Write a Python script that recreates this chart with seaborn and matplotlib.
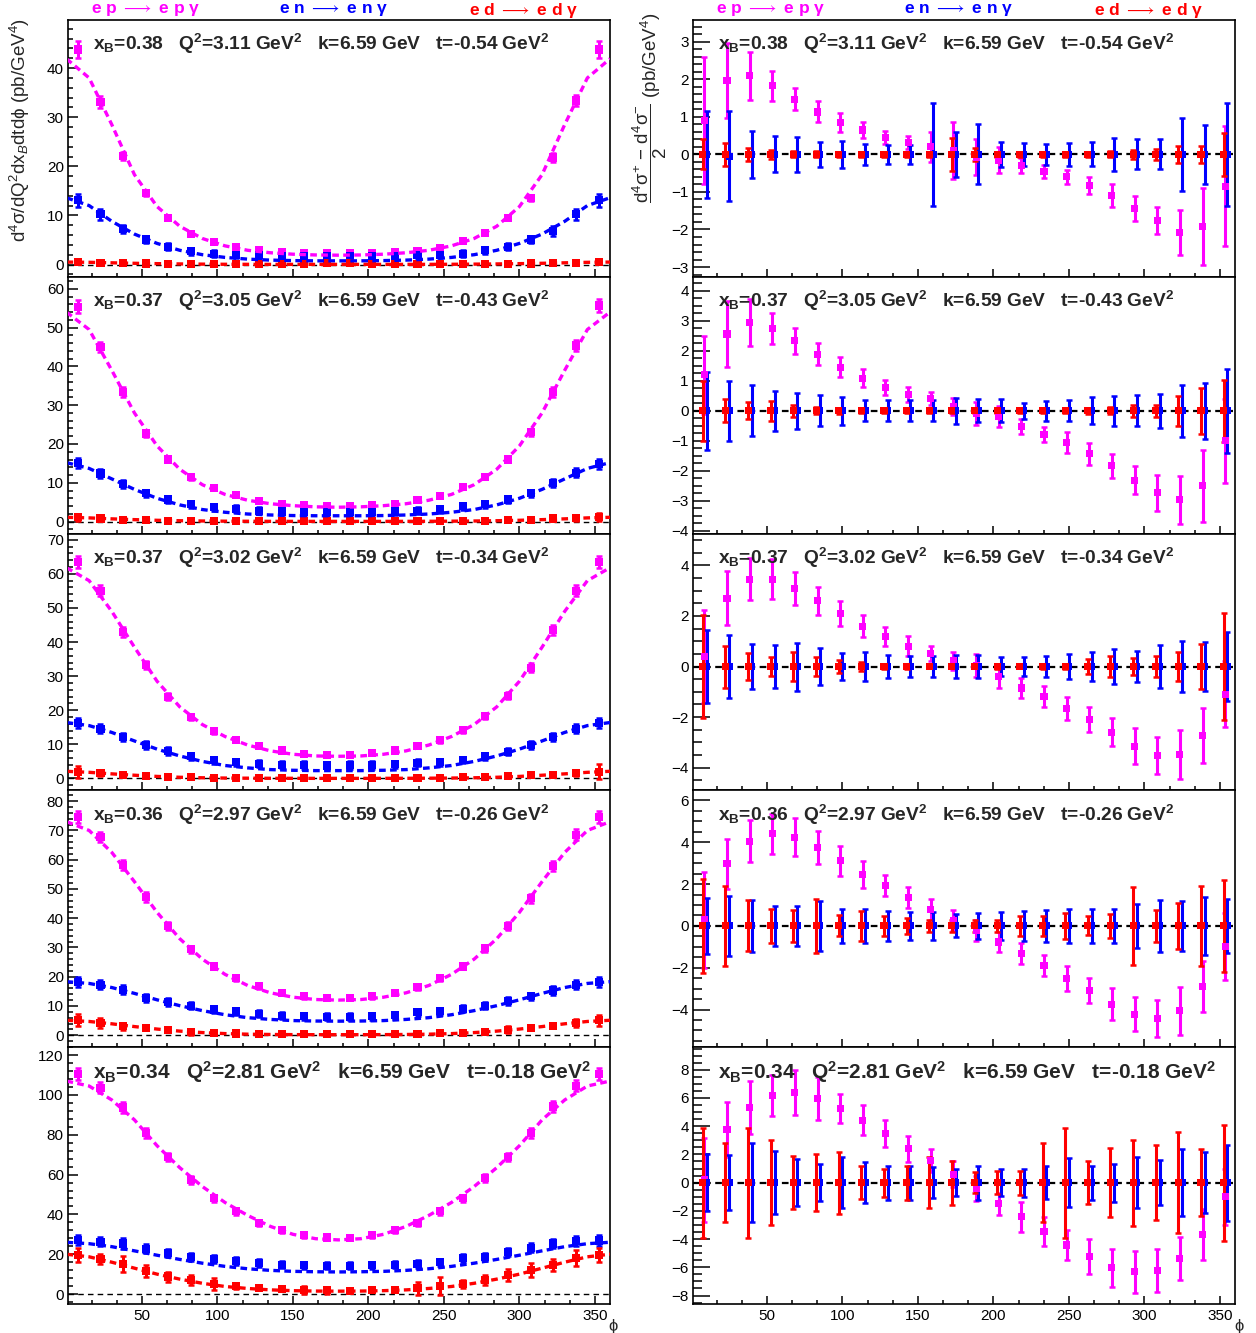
import numpy as np
import matplotlib.pyplot as plt
from matplotlib.ticker import MultipleLocator
import seaborn as sns

sns.set_style("white")
plt.rcParams['font.family'] = ['Liberation Sans', 'DejaVu Sans']
plt.rcParams['mathtext.fontset'] = 'custom'
plt.rcParams['mathtext.rm'] = 'Liberation Sans'
plt.rcParams['mathtext.it'] = 'Liberation Sans:italic'
plt.rcParams['mathtext.bf'] = 'Liberation Sans:bold'

#### data ####
phi = [7.5, 22.5, 37.5, 52.5, 67.5, 82.5, 97.5, 112.5, 127.5, 142.5, 157.5, 172.5,
       187.5, 202.5, 217.5, 232.5, 247.5, 262.5, 277.5, 292.5, 307.5, 322.5, 337.5, 352.5]
phi_fit = [0, 15, 30, 45, 60, 75, 90, 105, 120, 135, 150, 165, 180,
           195, 210, 225, 240, 255, 270, 285, 300, 315, 330, 345, 360]

info_xb = ['0.38', '0.37', '0.37', '0.36', '0.34']
info_q2 = ['3.11', '3.05', '3.02', '2.97', '2.81']
info_k = ['6.59', '6.59', '6.59', '6.59', '6.59']
info_t = ['-0.54', '-0.43', '-0.34', '-0.26', '-0.18']

# cross sections (left column), one list per row
ep_xs = [
    [43.8, 33.1, 22.1, 14.5, 9.5, 6.3, 4.6, 3.6, 2.9, 2.5, 2.4, 2.3, 2.3, 2.4, 2.5, 2.8, 3.4, 4.7, 6.5, 9.5, 13.6, 21.8, 33.4, 43.8],
    [55.4, 45.0, 33.4, 22.7, 16.0, 11.4, 8.6, 6.8, 5.4, 4.6, 4.2, 3.9, 4.0, 4.2, 4.6, 5.5, 6.7, 8.8, 11.6, 16.0, 23.0, 33.4, 45.4, 55.7],
    [63.5, 55.0, 43.0, 33.2, 24.0, 18.0, 13.8, 11.4, 9.4, 8.2, 7.3, 6.9, 6.9, 7.4, 8.2, 9.4, 11.2, 14.1, 18.2, 24.3, 32.5, 43.5, 55.0, 63.5],
    [74.7, 67.8, 58.2, 47.2, 37.4, 29.4, 23.5, 19.5, 16.7, 14.4, 13.3, 12.7, 12.7, 13.3, 14.4, 16.4, 19.5, 23.5, 29.8, 37.2, 46.8, 57.8, 68.6, 74.7],
    [110.7, 103.6, 93.7, 81.0, 68.9, 57.4, 48.1, 41.5, 35.9, 32.0, 29.6, 28.4, 28.3, 29.6, 32.0, 35.9, 41.5, 48.2, 58.4, 68.9, 80.7, 94.2, 104.7, 110.7],
]
ep_xs_err = [
    [1.8, 1.2, 0.9, 0.6, 0.5, 0.4, 0.35, 0.3, 0.3, 0.3, 0.3, 0.3, 0.3, 0.3, 0.3, 0.3, 0.35, 0.4, 0.45, 0.5, 0.6, 0.9, 1.2, 1.8],
    [1.6, 1.4, 1.2, 0.9, 0.6, 0.6, 0.5, 0.4, 0.4, 0.4, 0.4, 0.4, 0.4, 0.4, 0.4, 0.4, 0.4, 0.5, 0.6, 0.7, 0.9, 1.2, 1.5, 1.6],
    [1.8, 1.6, 1.5, 1.2, 1.1, 0.9, 0.8, 0.7, 0.6, 0.6, 0.6, 0.6, 0.6, 0.6, 0.6, 0.6, 0.7, 0.8, 0.9, 1.1, 1.3, 1.5, 1.6, 1.8],
    [2.0, 1.8, 1.8, 1.6, 1.4, 1.2, 1.0, 0.9, 0.8, 0.8, 0.8, 0.8, 0.8, 0.8, 0.8, 0.8, 0.9, 1.0, 1.2, 1.4, 1.6, 1.8, 1.8, 2.0],
    [3.0, 2.8, 2.8, 2.5, 2.2, 2.0, 1.8, 1.6, 1.5, 1.4, 1.4, 1.4, 1.4, 1.4, 1.4, 1.5, 1.6, 1.8, 2.0, 2.2, 2.5, 2.8, 2.8, 3.0],
]
en_xs = [
    [13.1, 10.2, 7.2, 5.1, 3.6, 2.7, 2.2, 2.0, 1.9, 1.8, 1.7, 1.7, 1.8, 1.8, 1.8, 1.9, 2.0, 2.2, 2.9, 3.6, 5.1, 6.9, 10.2, 13.1],
    [15.0, 12.4, 9.6, 7.3, 5.7, 4.5, 3.7, 3.3, 2.8, 2.6, 2.5, 2.4, 2.4, 2.5, 2.6, 2.8, 3.2, 3.9, 4.5, 5.7, 7.3, 9.9, 12.6, 14.8],
    [16.3, 14.6, 12.2, 9.8, 8.1, 6.5, 5.3, 4.7, 4.3, 4.0, 3.9, 3.8, 3.9, 3.9, 4.2, 4.6, 4.8, 5.4, 6.5, 7.8, 9.8, 12.1, 14.6, 16.3],
    [18.2, 17.3, 15.6, 12.7, 11.3, 10.1, 8.8, 8.2, 7.3, 6.7, 6.5, 6.3, 6.3, 6.5, 6.8, 7.8, 8.2, 9.1, 10.1, 11.6, 13.3, 15.3, 17.3, 18.2],
    [27.1, 26.2, 25.4, 22.8, 20.6, 18.4, 17.6, 16.4, 15.6, 14.7, 14.4, 14.2, 14.2, 14.4, 14.7, 15.1, 15.9, 18.1, 18.6, 21.0, 23.2, 25.4, 26.6, 26.9],
]
en_xs_err = [
    [1.3, 1.1, 0.8, 0.7, 0.7, 0.7, 0.7, 0.7, 0.7, 0.8, 1.0, 1.0, 0.9, 0.8, 0.7, 0.7, 0.7, 0.7, 0.7, 0.7, 0.8, 1.0, 1.1, 1.3],
    [1.3, 1.1, 1.0, 0.9, 0.9, 0.9, 0.9, 0.9, 0.9, 0.9, 1.0, 1.0, 1.0, 1.0, 0.9, 0.9, 0.9, 0.9, 0.9, 0.9, 0.9, 1.0, 1.2, 1.3],
    [1.5, 1.3, 1.2, 1.1, 1.1, 1.0, 1.0, 1.0, 1.0, 1.0, 1.1, 1.1, 1.1, 1.1, 1.0, 1.0, 1.0, 1.0, 1.0, 1.0, 1.1, 1.2, 1.3, 1.5],
    [1.6, 1.5, 1.4, 1.3, 1.3, 1.3, 1.3, 1.2, 1.2, 1.2, 1.2, 1.2, 1.2, 1.2, 1.2, 1.2, 1.2, 1.2, 1.3, 1.3, 1.3, 1.4, 1.5, 1.6],
    [2.5, 2.3, 2.8, 2.4, 2.2, 2.0, 2.0, 2.0, 1.8, 1.8, 1.8, 1.8, 1.8, 1.8, 1.8, 1.8, 1.8, 1.8, 2.0, 2.0, 2.2, 2.4, 2.4, 2.6],
]
ed_xs = [
    [0.5, 0.4, 0.3, 0.2, 0.15, 0.1, 0.08, 0.06, 0.06, 0.05, 0.05, 0.3, 0.3, 0.05, 0.05, 0.06, 0.06, 0.08, 0.1, 0.15, 0.2, 0.3, 0.35, 0.5],
    [1.1, 0.8, 0.5, 0.35, 0.25, 0.2, 0.15, 0.1, 0.1, 0.1, 0.1, 0.1, 0.1, 0.1, 0.1, 0.1, 0.15, 0.2, 0.25, 0.35, 0.5, 0.8, 0.9, 1.2],
    [2.0, 1.5, 1.1, 0.7, 0.45, 0.3, 0.2, 0.15, 0.1, 0.1, 0.1, 0.1, 0.1, 0.1, 0.1, 0.1, 0.15, 0.3, 0.4, 0.6, 0.9, 1.1, 1.6, 2.0],
    [5.1, 4.2, 3.1, 2.5, 1.7, 1.1, 0.8, 0.6, 0.5, 0.35, 0.35, 0.3, 0.3, 0.3, 0.4, 0.5, 0.7, 0.9, 1.2, 1.9, 2.5, 3.3, 4.2, 5.1],
    [19.8, 17.8, 15.1, 11.7, 8.8, 7.1, 5.1, 4.1, 3.0, 2.5, 2.0, 1.9, 1.7, 1.9, 2.0, 2.9, 4.1, 5.2, 7.1, 9.6, 12.2, 14.7, 18.1, 19.8],
]
ed_xs_err = [
    [0.4, 0.3, 0.25, 0.2, 0.15, 0.1, 0.1, 0.1, 0.1, 0.1, 0.1, 0.25, 0.2, 0.1, 0.1, 0.1, 0.1, 0.1, 0.1, 0.1, 0.15, 0.2, 0.3, 0.4],
    [0.9, 0.5, 0.4, 0.35, 0.3, 0.2, 0.2, 0.2, 0.15, 0.15, 0.15, 0.15, 0.15, 0.15, 0.15, 0.15, 0.15, 0.2, 0.25, 0.3, 0.4, 0.5, 0.7, 1.0],
    [1.8, 0.8, 0.6, 0.5, 0.4, 0.3, 0.3, 0.25, 0.2, 0.2, 0.2, 0.2, 0.2, 0.2, 0.2, 0.2, 0.2, 0.25, 0.3, 0.4, 0.5, 0.6, 0.8, 2.1],
    [2.0, 1.7, 1.2, 0.8, 0.7, 1.0, 0.6, 0.5, 0.4, 0.4, 0.4, 0.4, 0.4, 0.4, 0.4, 0.4, 0.5, 0.6, 0.7, 1.2, 0.8, 1.0, 1.5, 1.8],
    [3.5, 2.5, 4.0, 3.0, 2.5, 2.5, 3.0, 1.5, 1.2, 1.2, 1.8, 1.8, 1.2, 1.0, 1.2, 3.3, 4.5, 2.0, 2.5, 3.0, 3.5, 3.0, 4.0, 3.5],
]

# fit curves (dashed), sampled on phi_fit
ep_fit = [
    [41.9, 38.0, 28.5, 18.3, 11.8, 7.8, 5.3, 3.8, 2.9, 2.4, 2.1, 1.95, 1.9, 1.95, 2.1, 2.4, 2.9, 3.8, 5.3, 7.8, 11.8, 18.3, 28.5, 38.0, 41.9],
    [54.0, 49.5, 39.0, 28.0, 19.5, 13.5, 9.5, 7.0, 5.5, 4.6, 4.1, 3.8, 3.7, 3.8, 4.1, 4.6, 5.5, 7.0, 9.5, 13.5, 19.5, 28.0, 39.0, 49.5, 54.0],
    [61.8, 58.0, 49.0, 38.5, 28.5, 21.0, 15.8, 12.3, 9.8, 8.1, 7.1, 6.6, 6.5, 6.6, 7.1, 8.1, 9.8, 12.3, 15.8, 21.0, 28.5, 38.5, 49.0, 58.0, 61.8],
    [73.0, 70.0, 62.5, 52.5, 42.0, 33.0, 26.0, 20.8, 17.0, 14.5, 13.0, 12.2, 12.0, 12.2, 13.0, 14.5, 17.0, 20.8, 26.0, 33.0, 42.0, 52.5, 62.5, 70.0, 73.0],
    [107.0, 104.5, 97.5, 87.5, 74.5, 63.5, 54.0, 46.0, 39.5, 34.0, 30.0, 27.8, 27.2, 27.8, 30.0, 34.0, 39.5, 46.0, 54.0, 63.5, 74.5, 87.5, 97.5, 104.5, 107.0],
]
en_fit = [
    [13.6, 12.0, 8.8, 6.2, 4.3, 2.9, 2.0, 1.45, 1.1, 0.9, 0.8, 0.75, 0.75, 0.75, 0.8, 0.9, 1.1, 1.45, 2.0, 2.9, 4.3, 6.2, 8.8, 12.0, 13.6],
    [15.2, 13.7, 11.0, 8.3, 6.0, 4.3, 3.1, 2.4, 1.95, 1.7, 1.55, 1.5, 1.5, 1.5, 1.55, 1.7, 1.95, 2.4, 3.1, 4.3, 6.0, 8.3, 11.0, 13.7, 15.2],
    [16.4, 15.5, 13.5, 11.0, 8.6, 6.6, 5.0, 3.8, 3.1, 2.6, 2.4, 2.3, 2.3, 2.3, 2.4, 2.6, 3.1, 3.8, 5.0, 6.6, 8.6, 11.0, 13.5, 15.5, 16.4],
    [18.3, 17.7, 16.3, 14.3, 12.1, 10.1, 8.4, 7.0, 6.0, 5.4, 5.0, 4.85, 4.8, 4.85, 5.0, 5.4, 6.0, 7.0, 8.4, 10.1, 12.1, 14.3, 16.3, 17.7, 18.3],
    [26.0, 25.3, 23.8, 21.7, 19.5, 17.4, 15.5, 13.9, 12.7, 11.9, 11.4, 11.2, 11.1, 11.2, 11.4, 11.9, 12.7, 13.9, 15.5, 17.4, 19.5, 21.7, 23.8, 25.3, 26.0],
]
ed_fit = [
    [0.5, 0.45, 0.35, 0.25, 0.18, 0.12, 0.08, 0.05, 0.04, 0.03, 0.03, 0.03, 0.03, 0.03, 0.03, 0.03, 0.04, 0.05, 0.08, 0.12, 0.18, 0.25, 0.35, 0.45, 0.5],
    [1.1, 0.95, 0.7, 0.5, 0.33, 0.22, 0.15, 0.1, 0.08, 0.06, 0.05, 0.05, 0.05, 0.05, 0.05, 0.06, 0.08, 0.1, 0.15, 0.22, 0.33, 0.5, 0.7, 0.95, 1.1],
    [2.1, 1.8, 1.35, 0.95, 0.6, 0.35, 0.2, 0.12, 0.08, 0.05, 0.04, 0.03, 0.03, 0.03, 0.04, 0.05, 0.08, 0.12, 0.2, 0.35, 0.6, 0.95, 1.35, 1.8, 2.1],
    [5.1, 4.7, 3.9, 2.95, 2.1, 1.4, 0.9, 0.55, 0.35, 0.25, 0.2, 0.18, 0.18, 0.18, 0.2, 0.25, 0.35, 0.55, 0.9, 1.4, 2.1, 2.95, 3.9, 4.7, 5.1],
    [20.0, 18.7, 16.0, 13.0, 10.0, 7.5, 5.4, 3.8, 2.8, 2.1, 1.7, 1.5, 1.45, 1.5, 1.7, 2.1, 2.8, 3.8, 5.4, 7.5, 10.0, 13.0, 16.0, 18.7, 20.0],
]

# beam-charge differences (right column)
ep_diff = [
    [0.9, 1.96, 2.1, 1.83, 1.47, 1.13, 0.85, 0.65, 0.45, 0.31, 0.2, 0.1, -0.07, -0.15, -0.3, -0.45, -0.6, -0.83, -1.1, -1.45, -1.76, -2.07, -1.92, -0.85],
    [1.2, 2.56, 2.95, 2.75, 2.33, 1.88, 1.45, 1.09, 0.77, 0.55, 0.4, 0.13, -0.1, -0.2, -0.53, -0.79, -1.06, -1.43, -1.83, -2.32, -2.74, -2.97, -2.5, -1.0],
    [0.4, 2.7, 3.46, 3.46, 3.1, 2.6, 2.1, 1.6, 1.18, 0.8, 0.5, 0.23, 0.04, -0.4, -0.85, -1.2, -1.65, -2.1, -2.6, -3.15, -3.52, -3.48, -2.73, -1.1],
    [0.3, 2.97, 4.05, 4.41, 4.24, 3.76, 3.11, 2.47, 1.93, 1.35, 0.79, 0.27, -0.2, -0.77, -1.3, -1.9, -2.5, -3.1, -3.74, -4.22, -4.43, -4.06, -2.9, -1.0],
    [0.2, 3.75, 5.32, 6.2, 6.37, 5.97, 5.25, 4.42, 3.46, 2.39, 1.55, 0.6, -0.4, -1.5, -2.43, -3.46, -4.42, -5.25, -6.04, -6.32, -6.23, -5.37, -3.65, -1.0],
]
ep_diff_err = [
    [1.7, 1.0, 0.64, 0.4, 0.3, 0.28, 0.25, 0.2, 0.17, 0.17, 0.4, 0.75, 0.47, 0.35, 0.2, 0.17, 0.18, 0.22, 0.3, 0.33, 0.35, 0.6, 1.03, 1.6],
    [1.3, 1.1, 0.78, 0.52, 0.43, 0.37, 0.33, 0.3, 0.25, 0.25, 0.22, 0.28, 0.38, 0.35, 0.25, 0.25, 0.35, 0.37, 0.4, 0.47, 0.6, 0.8, 1.2, 1.4],
    [1.85, 1.07, 0.82, 0.8, 0.65, 0.55, 0.5, 0.45, 0.37, 0.4, 0.3, 0.35, 0.45, 0.45, 0.38, 0.42, 0.45, 0.5, 0.55, 0.7, 0.75, 0.95, 1.1, 1.3],
    [2.3, 1.2, 1.0, 0.95, 0.9, 0.8, 0.7, 0.65, 0.5, 0.5, 0.5, 0.5, 0.5, 0.5, 0.5, 0.5, 0.6, 0.6, 0.75, 0.8, 0.88, 1.15, 1.2, 1.6],
    [3.0, 1.95, 1.9, 1.45, 1.6, 1.5, 1.05, 1.05, 0.95, 0.9, 0.8, 0.9, 0.9, 0.8, 1.05, 1.0, 1.05, 1.25, 1.35, 1.5, 1.5, 1.55, 1.8, 2.0],
]
en_diff = [
    [0.0, -0.05, 0.0, 0.0, 0.0, 0.0, 0.0, 0.0, 0.0, 0.0, 0.0, 0.0, 0.0, 0.0, 0.0, 0.0, 0.0, 0.0, 0.0, 0.0, 0.0, 0.0, 0.0, 0.0],
    [0.0, 0.0, 0.0, 0.0, 0.0, 0.0, 0.0, 0.0, 0.0, 0.0, 0.0, 0.0, 0.0, 0.0, 0.0, 0.0, 0.0, 0.0, 0.0, 0.0, 0.0, 0.0, 0.0, 0.0],
    [0.0, 0.0, 0.0, 0.0, 0.0, 0.0, 0.0, 0.0, 0.0, 0.0, 0.0, 0.0, 0.0, 0.0, 0.0, 0.0, 0.0, 0.0, 0.0, 0.0, 0.0, 0.0, 0.0, 0.0],
    [0.0, 0.0, 0.0, 0.0, 0.0, 0.0, 0.0, 0.0, 0.0, 0.0, 0.0, 0.0, 0.0, 0.0, 0.0, 0.0, 0.0, 0.0, 0.0, 0.0, 0.0, 0.0, 0.0, 0.0],
    [0.0, 0.0, 0.0, 0.0, 0.0, 0.0, 0.0, 0.0, 0.0, 0.0, 0.0, 0.0, 0.0, 0.0, 0.0, 0.0, 0.0, 0.0, 0.0, 0.0, 0.0, 0.0, 0.0, 0.0],
]
en_diff_err = [
    [1.15, 1.2, 0.62, 0.48, 0.46, 0.34, 0.35, 0.27, 0.26, 0.25, 1.37, 0.6, 0.8, 0.33, 0.3, 0.27, 0.3, 0.32, 0.45, 0.4, 0.4, 0.97, 0.78, 1.37],
    [1.3, 1.0, 0.85, 0.67, 0.6, 0.52, 0.47, 0.35, 0.35, 0.35, 0.35, 0.43, 0.38, 0.38, 0.27, 0.33, 0.35, 0.45, 0.5, 0.52, 0.57, 0.86, 0.93, 1.4],
    [1.45, 1.25, 0.9, 0.85, 0.95, 0.73, 0.52, 0.58, 0.45, 0.42, 0.43, 0.45, 0.45, 0.38, 0.38, 0.4, 0.5, 0.58, 0.68, 0.6, 0.85, 1.0, 0.98, 1.38],
    [1.35, 1.45, 1.25, 0.95, 0.95, 1.2, 0.8, 0.82, 0.7, 0.65, 0.65, 0.55, 0.62, 0.68, 0.72, 0.78, 0.8, 0.8, 0.8, 1.07, 1.25, 1.2, 1.37, 1.3],
    [2.0, 1.95, 2.8, 2.25, 1.65, 1.3, 1.8, 1.45, 1.2, 1.2, 1.1, 0.95, 1.2, 0.95, 1.0, 1.15, 1.75, 1.2, 1.35, 1.8, 1.6, 2.35, 2.15, 2.7],
]
ed_diff = [
    [0.0, 0.0, 0.0, 0.0, 0.0, 0.0, 0.0, 0.0, 0.0, 0.0, 0.0, 0.0, 0.0, 0.0, 0.0, 0.0, 0.0, 0.0, 0.0, 0.0, 0.0, 0.0, 0.0, 0.0],
    [0.0, 0.0, 0.0, 0.0, 0.0, 0.0, 0.0, 0.0, 0.0, 0.0, 0.0, 0.0, 0.0, 0.0, 0.0, 0.0, 0.0, 0.0, 0.0, 0.0, 0.0, 0.0, 0.0, 0.0],
    [0.0, 0.0, 0.0, 0.0, 0.0, 0.0, 0.0, 0.0, 0.0, 0.0, 0.0, 0.0, 0.0, 0.0, 0.0, 0.0, 0.0, 0.0, 0.0, 0.0, 0.0, 0.0, 0.0, 0.0],
    [0.0, 0.0, 0.0, 0.0, 0.0, 0.0, 0.0, 0.0, 0.0, 0.0, 0.0, 0.0, 0.0, 0.0, 0.0, 0.0, 0.0, 0.0, 0.0, 0.0, 0.0, 0.0, 0.0, 0.0],
    [0.0, 0.0, 0.0, 0.0, 0.0, 0.0, 0.0, 0.0, 0.0, 0.0, 0.0, 0.0, 0.0, 0.0, 0.0, 0.0, 0.0, 0.0, 0.0, 0.0, 0.0, 0.0, 0.0, 0.0],
]
ed_diff_err = [
    [0.4, 0.3, 0.18, 0.12, 0.08, 0.08, 0.06, 0.06, 0.06, 0.06, 0.06, 0.45, 0.17, 0.06, 0.06, 0.06, 0.06, 0.06, 0.08, 0.12, 0.15, 0.22, 0.22, 0.57],
    [1.0, 0.38, 0.28, 0.33, 0.2, 0.12, 0.1, 0.08, 0.08, 0.08, 0.08, 0.08, 0.08, 0.08, 0.08, 0.08, 0.08, 0.1, 0.12, 0.2, 0.2, 0.5, 0.77, 1.03],
    [2.05, 0.83, 0.55, 0.36, 0.57, 0.38, 0.26, 0.18, 0.1, 0.08, 0.06, 0.06, 0.06, 0.1, 0.06, 0.08, 0.1, 0.28, 0.4, 0.35, 0.42, 0.56, 0.9, 2.1],
    [2.25, 1.9, 1.22, 0.8, 0.75, 1.28, 0.5, 0.7, 0.48, 0.38, 0.3, 0.3, 0.28, 0.28, 0.48, 0.48, 0.62, 0.45, 0.58, 1.88, 0.77, 1.1, 1.9, 2.2],
    [3.9, 2.8, 3.9, 3.0, 1.9, 2.0, 2.2, 1.15, 1.0, 1.2, 1.8, 1.55, 0.75, 0.8, 0.85, 2.8, 3.9, 1.5, 2.45, 3.05, 2.65, 3.6, 2.35, 4.1],
]

left_ylim = [(-2.5, 49.8), (-3.1, 63.1), (-3.5, 71.8), (-4.1, 83.7), (-5.0, 124.0)]
right_ylim = [(-3.26, 3.58), (-4.1, 4.47), (-4.9, 5.26), (-5.8, 6.48), (-8.6, 9.6)]
left_major = [10, 10, 10, 10, 20]
right_major = [1, 1, 2, 2, 2]
right_minor = [0.2, 0.25, 0.5, 0.5, 0.5]

MAG, BLU, RED = '#ff00ff', '#0000ff', '#ff0000'

#### figure layout (pixel based, like the ROOT canvas) ####
W, H = 1256, 1333
fig = plt.figure(figsize=(W / 100, H / 100), dpi=100)
top, bottom = 20, 1304
row_h = (bottom - top) / 5.0
fit_ls = (0, (2.0, 1.3))


def style_axes(ax, i, ymaj, ymin, ylen):
    ax.set_xlim(1, 360)
    ax.xaxis.set_major_locator(MultipleLocator(50))
    ax.xaxis.set_minor_locator(MultipleLocator(50 / 3.0))
    ax.yaxis.set_major_locator(MultipleLocator(ymaj))
    ax.yaxis.set_minor_locator(MultipleLocator(ymin))
    ax.tick_params(which='both', direction='in', top=False, right=False,
                   left=True, bottom=True, width=1.1, colors='k', labelsize=11)
    ax.tick_params(axis='x', which='major', length=6)
    ax.tick_params(axis='x', which='minor', length=3)
    ax.tick_params(axis='y', which='major', length=ylen, pad=3)
    ax.tick_params(axis='y', which='minor', length=ylen * 0.55)
    if i < 4:
        ax.tick_params(axis='x', labelbottom=False)
    for sp in ax.spines.values():
        sp.set_linewidth(1.2)
        sp.set_color('k')
    ax.set_xlabel('')
    ax.set_ylabel('')


def info_text(i):
    return (r"x$_{\mathbf{B}}$=" + info_xb[i] + r"   Q$^{\mathbf{2}}$=" + info_q2[i]
            + r" GeV$^{\mathbf{2}}$   k=" + info_k[i] + r" GeV   t=" + info_t[i]
            + r" GeV$^{\mathbf{2}}$")


axes_left, axes_right = [], []
for i in range(5):
    y1 = top + i * row_h
    axL = fig.add_axes([68 / W, 1 - (y1 + row_h) / H, 542 / W, row_h / H])
    axR = fig.add_axes([693 / W, 1 - (y1 + row_h) / H, 542 / W, row_h / H])
    axes_left.append(axL)
    axes_right.append(axR)

    ### left: cross sections with fits
    axL.axhline(0, color='k', lw=1.0, ls=(0, (4, 3)), zorder=1)
    for vals, errs, fit, c in [(ep_xs[i], ep_xs_err[i], ep_fit[i], MAG),
                               (en_xs[i], en_xs_err[i], en_fit[i], BLU),
                               (ed_xs[i], ed_xs_err[i], ed_fit[i], RED)]:
        axL.errorbar(phi, vals, yerr=errs, fmt='none', ecolor=c, elinewidth=2.2,
                     capsize=2.3, capthick=1.8, zorder=3)
        sns.scatterplot(x=phi, y=vals, ax=axL, color=c, marker='s', s=34,
                        edgecolor='none', linewidth=0, zorder=4)
        sns.lineplot(x=phi_fit, y=fit, ax=axL, color=c, lw=2.4, linestyle=fit_ls,
                     zorder=5)
    axL.set_ylim(*left_ylim[i])
    style_axes(axL, i, left_major[i], left_major[i] / 5.0, 7)

    ### right: charge differences
    axR.axhline(0, color='k', lw=1.6, ls=(0, (3, 2)), zorder=1)
    for vals, errs, dx, c in [(ep_diff[i], ep_diff_err[i], 1.0, MAG),
                              (en_diff[i], en_diff_err[i], 2.5, BLU),
                              (ed_diff[i], ed_diff_err[i], 0.0, RED)]:
        xs = np.array(phi) + dx
        axR.errorbar(xs, vals, yerr=errs, fmt='none', ecolor=c, elinewidth=2.2,
                     capsize=2.3, capthick=1.8, zorder=3)
        sns.scatterplot(x=xs, y=vals, ax=axR, color=c, marker='s', s=26,
                        edgecolor='none', linewidth=0, zorder=4)
    axR.set_ylim(*right_ylim[i])
    style_axes(axR, i, right_major[i], right_minor[i], 12)

    fs = 15 if i == 4 else 13.8
    for ax in (axL, axR):
        ax.text(0.046, 0.905, info_text(i), transform=ax.transAxes, fontsize=fs,
                fontweight='bold', ha='left', va='center', zorder=10)

#### reaction labels above the top row
for ax in (axes_left[0], axes_right[0]):
    for xf, lab, c in [(0.144, r'e p $\longrightarrow$ e p γ', MAG),
                       (0.49, r'e n $\longrightarrow$ e n γ', BLU),
                       (0.84, r'e d $\longrightarrow$ e d γ', RED)]:
        ax.text(xf, 1.038, lab, transform=ax.transAxes, color=c, fontsize=12.5,
                fontweight='bold', ha='center', va='center')

#### axis titles
fig.text(20 / W, 1 - 130 / H, r"d$^{4}$σ/dQ$^{2}$dx$_{B}$dtdϕ (pb/GeV$^{4}$)",
         rotation=90, ha='center', va='center', fontsize=13.5)
fig.text(650 / W, 1 - 108 / H,
         r"$\dfrac{\mathrm{d}^{4}\mathrm{\sigma}^{+}\ \mathrm{-}\ \mathrm{d}^{4}\mathrm{\sigma}^{-}}{2}$ (pb/GeV$^{4}$)",
         rotation=90, ha='center', va='center', fontsize=13.5)
fig.text(613 / W, 1 - 1327 / H, 'ϕ', ha='center', va='center', fontsize=12)
fig.text(1239 / W, 1 - 1327 / H, 'ϕ', ha='center', va='center', fontsize=12)

fig.savefig('out.png', dpi=100)
